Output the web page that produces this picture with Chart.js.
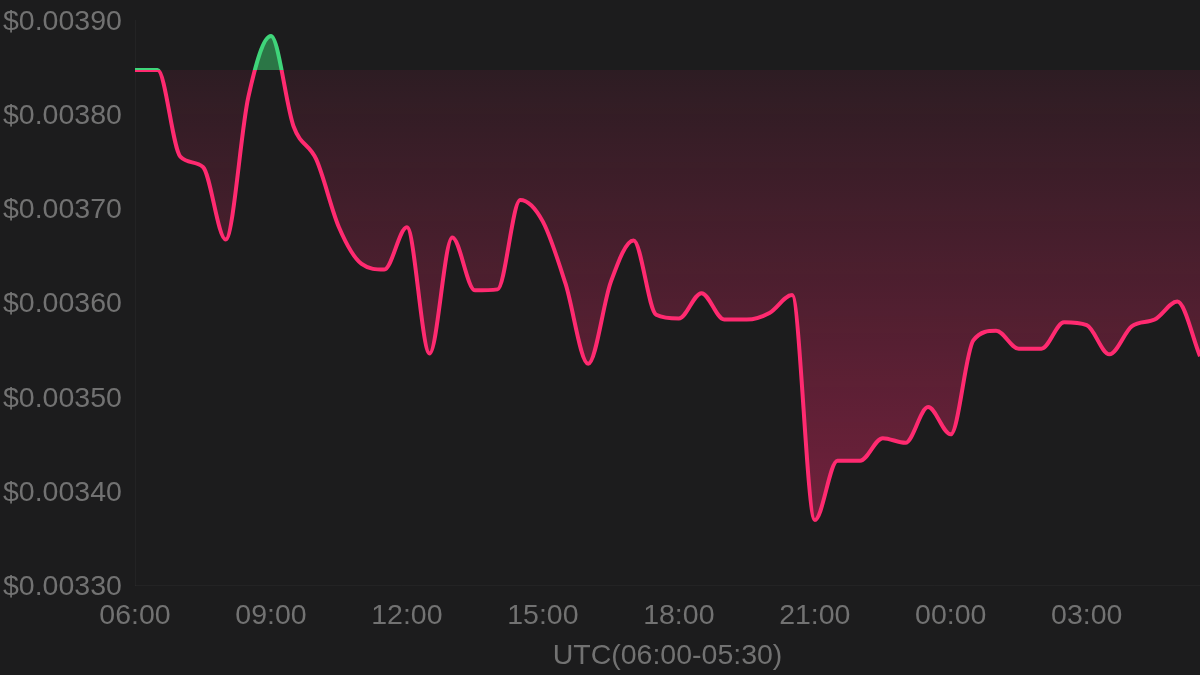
<!DOCTYPE html>
<html>
<head>
<meta charset="utf-8">
<script src="https://cdn.jsdelivr.net/npm/chart.js@4.4.1/dist/chart.umd.min.js"></script>
<style>
  html, body { margin: 0; padding: 0; background: #1c1c1d; }
  #wrap { width: 1200px; height: 675px; }
</style>
</head>
<body>
<div id="wrap"><canvas id="priceChart"></canvas></div>
<script>
// half-hour samples, 06:00 -> 05:30
const timeLabels = [
  '06:00','06:30','07:00','07:30','08:00','08:30','09:00','09:30',
  '10:00','10:30','11:00','11:30','12:00','12:30','13:00','13:30',
  '14:00','14:30','15:00','15:30','16:00','16:30','17:00','17:30',
  '18:00','18:30','19:00','19:30','20:00','20:30','21:00','21:30',
  '22:00','22:30','23:00','23:30','00:00','00:30','01:00','01:30',
  '02:00','02:30','03:00','03:30','04:00','04:30','05:00','05:30'
];

const prices = [
  0.003847, 0.003847, 0.003755, 0.003744, 0.003667, 0.003818, 0.003883, 0.003787,
  0.003752, 0.003680, 0.003641, 0.003635, 0.003680, 0.003546, 0.003669, 0.003613,
  0.003614, 0.003709, 0.003686, 0.003620, 0.003535, 0.003622, 0.003666, 0.003587,
  0.003583, 0.003610, 0.003582, 0.003582, 0.003589, 0.003608, 0.003369, 0.003432,
  0.003432, 0.003456, 0.003451, 0.003489, 0.003460, 0.003560, 0.003570, 0.003551,
  0.003551, 0.003579, 0.003576, 0.003545, 0.003575, 0.003582, 0.003601, 0.003543
];

const baseline = 0.003847; // opening price
const yTicks = [0.0033, 0.0039, 0.0001]; // min, max, step

const GREEN = '#3fd57a';
const GREEN_FILL = 'rgba(52, 168, 92, 0.65)';
const PINK = '#ff2a70';

Chart.defaults.font.family = '"Liberation Sans", Arial, sans-serif';

function splitLine(ctx) {
  const chart = ctx.chart;
  const area = chart.chartArea;
  if (!area) return PINK;
  const yb = chart.scales.y.getPixelForValue(baseline);
  const s = Math.min(1, Math.max(0, (yb - area.top) / (area.bottom - area.top)));
  const g = chart.ctx.createLinearGradient(0, area.top, 0, area.bottom);
  g.addColorStop(0, GREEN);
  g.addColorStop(s, GREEN);
  g.addColorStop(s, PINK);
  g.addColorStop(1, PINK);
  return g;
}

function belowFill(ctx) {
  const chart = ctx.chart;
  const area = chart.chartArea;
  if (!area) return 'rgba(255,42,112,0.2)';
  const yb = chart.scales.y.getPixelForValue(baseline);
  const g = chart.ctx.createLinearGradient(0, yb, 0, area.bottom);
  g.addColorStop(0, 'rgba(255, 42, 112, 0.08)');
  g.addColorStop(1, 'rgba(255, 42, 112, 0.42)');
  return g;
}

const priceChart = new Chart(document.getElementById('priceChart'), {
  type: 'line',
  data: {
    labels: timeLabels,
    datasets: [{
      data: prices,
      borderColor: splitLine,
      backgroundColor: belowFill,
      borderWidth: 4,
      pointRadius: 0,
      cubicInterpolationMode: 'monotone',
      fill: { value: baseline, above: GREEN_FILL }
    }]
  },
  options: {
    responsive: true,
    maintainAspectRatio: false,
    animation: false,
    layout: { padding: { left: 3, top: 20, right: 0, bottom: 0 } },
    plugins: { legend: { display: false }, tooltip: { enabled: false } },
    scales: {
      x: {
        grid: { display: false, drawTicks: false },
        border: { display: true, color: 'rgba(255,255,255,0.03)' },
        ticks: {
          autoSkip: false,
          maxRotation: 0,
          padding: 14,
          color: '#727272',
          font: { size: 28.5 },
          callback: (v, i) => (i % 6 === 0 ? timeLabels[i] : null)
        },
        title: {
          display: true,
          text: 'UTC(06:00-05:30)',
          color: '#727272',
          font: { size: 28.5 },
          padding: { top: 0, bottom: 2 }
        },
        afterFit: (scale) => { scale.height = 90; }
      },
      y: {
        min: yTicks[0],
        max: yTicks[1],
        grid: { display: false, drawTicks: false },
        border: { display: true, color: 'rgba(255,255,255,0.03)' },
        ticks: {
          stepSize: yTicks[2],
          crossAlign: 'far',
          labelOffset: 2,
          color: '#727272',
          font: { size: 28.5 },
          callback: (v) => '$' + Number(v).toFixed(5)
        },
        afterFit: (scale) => { scale.width = 132; }
      }
    }
  }
});
</script>
</body>
</html>
